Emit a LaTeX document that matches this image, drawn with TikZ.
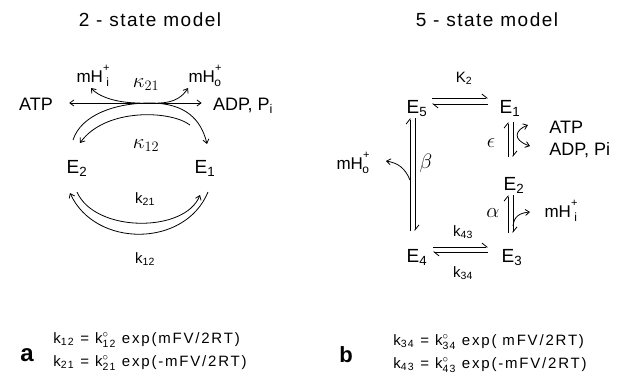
\documentclass[tikz,border=0pt]{standalone}
\usepackage{amsmath}
\usepackage{fontspec}
\setmainfont{Liberation Sans}
\usetikzlibrary{arrows.meta}
\newcommand{\mHion}[1]{mH\raisebox{1.2ex}{\fontsize{11}{11}\selectfont +}\llap{\raisebox{-0.45ex}{\fontsize{12}{12}\selectfont #1}\kern0.5pt}}
\newcommand{\kzero}[1]{k$^{\circ}_{\text{#1}}$}
\tikzset{
  title/.style={font=\fontsize{19}{22}\selectfont\addfontfeatures{LetterSpace=8}},
  state/.style={font=\fontsize{19}{22}\selectfont, anchor=base, inner sep=1pt},
  chem/.style={font=\fontsize{18}{20}\selectfont, anchor=base, inner sep=1pt},
  rate/.style={font=\fontsize{15}{18}\selectfont, anchor=base, inner sep=1pt},
  ion/.style={font=\fontsize{17}{19}\selectfont, anchor=base, inner sep=1pt},
  greek/.style={font=\fontsize{20}{22}\selectfont, anchor=base, inner sep=1pt},
  eqn/.style={font=\fontsize{15}{17}\selectfont\addfontfeatures{LetterSpace=12}, anchor=base west, inner sep=0pt},
  panel/.style={font=\bfseries\fontsize{24}{26}\selectfont, anchor=base, inner sep=0pt},
  harp/.style={-{Straight Barb[left,length=5pt,width=8pt]}},
  rxn/.style={line width=0.8pt}
}
\begin{document}
\begin{tikzpicture}[x=1pt,y=-1pt,rxn,>={Straight Barb[length=4pt,width=6pt]}]
  \useasboundingbox (0,0) rectangle (623,375);
  % 2-state model
  \node[title] (t2) at (150,20) {2 - state model};
  \node[state] (E2) at (77,173) {E\textsubscript{2}};
  \node[state] (E1) at (205,173) {E\textsubscript{1}};
  \node[chem] (ATP) at (36,110) {ATP};
  \node[chem] (ADP) at (243,110) {ADP, P\textsubscript{i}};
  \node[ion] (mHi) at (93,82) {\mHion{i}};
  \node[ion] (mHo) at (205,82) {\mHion{o}};
  \node[greek] (K21) at (146,87) {$\kappa_{21}$};
  \node[greek] (K12) at (146,148) {$\kappa_{12}$};
  \node[rate] (k21) at (145,203) {k\textsubscript{21}};
  \node[rate] (k12) at (145,263) {k\textsubscript{12}};
  \coordinate (hub) at (150,103);
  \coordinate (a2) at (73,140);
  \coordinate (a1) at (207,144);
  \coordinate (b1) at (190,125);
  \coordinate (b2) at (80,143);
  \draw[<->,shorten <=15pt,shorten >=10pt] (ATP.east |- hub) -- (ADP.west |- hub);
  \draw[->] (a2) .. controls +(8,-25) and +(-35,0) .. (hub) .. controls +(35,0) and +(-6,-25) .. (a1);
  \draw[->] (b1) .. controls (170,110) and (105,108) .. (b2);
  \draw[->] (140,103) .. controls (115,103) and (98,96) .. (91,88);
  \draw[->] (158,103) .. controls (175,103) and (183,96) .. (188,88);
  % lower pair of arcs
  \draw[->] (208,192) .. controls (185,248) and (95,248) .. (70,193);
  \draw[->] (77,192) .. controls (95,233) and (185,233) .. (200,195);
  \node[panel] (pa) at (27,361) {a};
  \node[eqn] (eq12) at (53,343) {k\textsubscript{12} = \kzero{12} exp(mFV/2RT)};
  \node[eqn] (eq21) at (53,366) {k\textsubscript{21} = \kzero{21} exp(-mFV/2RT)};
  % 5-state model
  \node[title] (t5) at (487,20) {5 - state model};
  \node[state] (E5) at (417,113) {E\textsubscript{5}};
  \node[state] (E1r) at (510,113) {E\textsubscript{1}};
  \node[state] (E2r) at (514,190) {E\textsubscript{2}};
  \node[state] (E4) at (417,262) {E\textsubscript{4}};
  \node[state] (E3) at (512,262) {E\textsubscript{3}};
  \node[rate] (K2) at (464,82) {K\textsubscript{2}};
  \node[rate] (k43) at (463,236) {k\textsubscript{43}};
  \node[rate] (k34) at (463,277) {k\textsubscript{34}};
  \node[greek] (eps) at (491,147) {$\epsilon$};
  \node[greek] (bet) at (426,168) {$\beta$};
  \node[greek] (alp) at (493,217) {$\alpha$};
  \node[chem,anchor=base west] (ATPr) at (548,133) {ATP};
  \node[chem,anchor=base west] (ADPr) at (548,155) {ADP, Pi};
  \node[ion] (mHor) at (353,169) {\mHion{o}};
  \node[ion] (mHir) at (561,217) {\mHion{i}};
  % harpoons
  \draw[harp] (432,98) -- (488,98);
  \draw[harp] (488,104) -- (432,104);
  \draw[harp] (433,247) -- (488,247);
  \draw[harp] (488,252) -- (433,252);
  \draw[harp] (410,231) -- (410,118);
  \draw[harp] (415,118) -- (415,231);
  \draw[harp] (508,157) -- (508,122);
  \draw[harp] (513,122) -- (513,157);
  \draw[harp] (508,233) -- (508,195);
  \draw[harp] (513,195) -- (513,233);
  % side branches
  \draw[->] (410,180) .. controls (405,168) and (398,163) .. (386,161);
  \draw[<->] (528,125) .. controls (515,130) and (512,140) .. (530,146);
  \draw[->] (513,226) .. controls (514,216) and (520,213) .. (530,212);
  \node[panel,font=\bfseries\fontsize{22}{24}\selectfont] (pb) at (346,362) {b};
  \node[eqn] (eq34) at (393,345) {k\textsubscript{34} = \kzero{34} exp( mFV/2RT)};
  \node[eqn] (eq43) at (393,368) {k\textsubscript{43} = \kzero{43} exp(-mFV/2RT)};
\end{tikzpicture}
\end{document}
